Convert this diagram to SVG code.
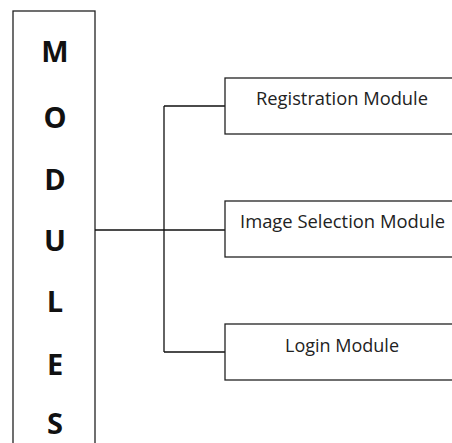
<svg xmlns="http://www.w3.org/2000/svg" width="452" height="443" viewBox="0 0 452 443">
<style>
.box{fill:#fff;stroke:#222;stroke-width:1.3}
.ln{fill:none;stroke:#111;stroke-width:1.3}
.big{font-family:"Open Sans","Liberation Sans",Arial,sans-serif;font-weight:bold;font-size:29px;fill:#111;text-anchor:middle}
.lbl{font-family:"Open Sans","Liberation Sans",Arial,sans-serif;font-size:19px;fill:#222}
</style>
<rect width="452" height="443" fill="#fff"/>
<g id="modules">
<rect class="box" x="13" y="11" width="82" height="450"/>
<text class="big" x="55" y="62">M</text>
<text class="big" x="55" y="128">O</text>
<text class="big" x="55" y="190">D</text>
<text class="big" x="55" y="251">U</text>
<text class="big" x="55" y="312">L</text>
<text class="big" x="55" y="375">E</text>
<text class="big" x="55" y="434">S</text>
</g>
<g id="connectors">
<path class="ln" d="M95 230H164M164 106V352M164 106H225M164 230H225M164 352H225"/>
</g>
<g id="registration">
<rect class="box" x="225" y="78" width="240" height="56"/>
<text class="lbl" x="256" y="105" textLength="172" lengthAdjust="spacingAndGlyphs">Registration Module</text>
</g>
<g id="image-selection">
<rect class="box" x="225" y="201" width="240" height="56"/>
<text class="lbl" x="240" y="228" textLength="205" lengthAdjust="spacingAndGlyphs">Image Selection Module</text>
</g>
<g id="login">
<rect class="box" x="225" y="324" width="240" height="56"/>
<text class="lbl" x="285" y="352" textLength="114" lengthAdjust="spacingAndGlyphs">Login Module</text>
</g>
</svg>
